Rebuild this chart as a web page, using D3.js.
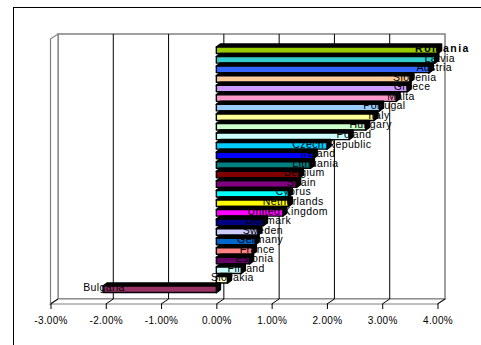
<!DOCTYPE html>
<html>
<head>
<meta charset="utf-8">
<script src="https://cdn.jsdelivr.net/npm/d3@7/dist/d3.min.js"></script>
<style>
  html, body { margin: 0; padding: 0; background: #fff; }
  svg { display: block; }
  text { font-family: "Liberation Sans", Arial, sans-serif; }
</style>
</head>
<body>
<svg id="chart" width="481" height="345"></svg>
<script>
// Countries, top to bottom
const countries = ["Romania", "Latvia", "Austria", "Slovenia", "Greece", "Malta", "Portugal",
  "Italy", "Hungary", "Poland", "Czech Republic", "Ireland", "Lithuania", "Belgium", "Spain",
  "Cyprus", "Netherlands", "United Kingdom", "Denmark", "Sweden", "Germany", "France",
  "Estonia", "Finland", "Slovakia", "Bulgaria"];

// Values in percent
const values = [4.0, 3.95, 3.85, 3.5, 3.45, 3.25, 2.95, 2.85, 2.7, 2.4, 2.0, 1.75, 1.7, 1.5,
  1.45, 1.3, 1.3, 1.2, 0.85, 0.75, 0.7, 0.65, 0.6, 0.45, 0.2, -2.05];

// Bar colours (classic spreadsheet palette)
const colors = ["#99CC00", "#33CCCC", "#3366FF", "#FFCC99", "#CC99FF", "#FF99CC", "#99CCFF",
  "#FFFF99", "#CCFFCC", "#CCFFFF", "#00CCFF", "#0000FF", "#008080", "#800000", "#800080",
  "#00FFFF", "#FFFF00", "#FF00FF", "#000080", "#CCCCFF", "#0066CC", "#FF8080", "#660066",
  "#CCFFFF", "#FFFFCC", "#993366"];

const tickValues = [-3, -2, -1, 0, 1, 2, 3, 4];

const svg = d3.select("#chart");

// Outer chart frame
svg.append("rect")
  .attr("x", 13.5).attr("y", 7.5).attr("width", 520).attr("height", 400)
  .attr("fill", "#fff").attr("stroke", "#000").attr("stroke-width", 1);

// Front plane scale and depth offset of the 3D box
const x = d3.scaleLinear().domain([-3, 4]).range([50.5, 437.5]);
const depth = { dx: 7.5, dy: -5 };
const frontTop = 39, frontBottom = 304;
const backTop = frontTop + depth.dy, backBottom = frontBottom + depth.dy;
const bx = v => x(v) + depth.dx;

const y = d3.scaleBand().domain(countries).range([45.5, 294.1])
  .paddingInner(0.32).paddingOuter(0.16);

const gray = "#808080";
const box = svg.append("g");

// Back wall
box.append("rect")
  .attr("x", bx(-3)).attr("y", backTop)
  .attr("width", bx(4) - bx(-3)).attr("height", backBottom - backTop)
  .attr("fill", "#fff").attr("stroke", gray).attr("stroke-width", 1.5);

// Left wall
box.append("path")
  .attr("d", `M${x(-3)},${frontBottom}L${x(-3)},${frontTop}L${bx(-3)},${backTop}L${bx(-3)},${backBottom}Z`)
  .attr("fill", "#fff").attr("stroke", gray).attr("stroke-width", 1.2);

// Floor
box.append("path")
  .attr("d", `M${x(-3)},${frontBottom}L${x(4)},${frontBottom}L${bx(4)},${backBottom}L${bx(-3)},${backBottom}Z`)
  .attr("fill", "#fff").attr("stroke", gray).attr("stroke-width", 1.2);

// Gridlines on the back wall and floor
const inner = tickValues.filter(v => v > -3 && v < 4);
box.selectAll("line.grid").data(inner).join("line")
  .attr("class", "grid")
  .attr("x1", d => bx(d)).attr("x2", d => bx(d))
  .attr("y1", backTop).attr("y2", backBottom)
  .attr("stroke", "#000").attr("stroke-width", 1);
box.selectAll("line.floorgrid").data(tickValues).join("line")
  .attr("class", "floorgrid")
  .attr("x1", d => bx(d)).attr("x2", d => x(d))
  .attr("y1", backBottom).attr("y2", frontBottom)
  .attr("stroke", "#000").attr("stroke-width", 1);

// Value axis along the front edge of the floor
const axis = d3.axisBottom(x).tickValues(tickValues)
  .tickFormat(d => d.toFixed(2) + "%").tickSize(5).tickPadding(8);
const axG = svg.append("g").attr("transform", `translate(0,${frontBottom})`).call(axis);
axG.select(".domain").remove();
axG.selectAll(".tick line").attr("stroke", "#000");
axG.selectAll(".tick text")
  .attr("font-family", "'Liberation Sans', Arial, sans-serif")
  .attr("font-size", 10).attr("letter-spacing", "0.3px").attr("fill", "#000");

// Bars with a dark extruded top and end face
const bd = { dx: 4, dy: -3 };
const bars = svg.append("g");
countries.forEach((c, i) => {
  const v = values[i];
  const x1 = x(Math.min(0, v)), x2 = x(Math.max(0, v));
  const y0 = y(c), h = y.bandwidth();
  const g = bars.append("g");
  g.append("path")
    .attr("d", `M${x1},${y0}L${x1 + bd.dx},${y0 + bd.dy}L${x2 + bd.dx},${y0 + bd.dy}` +
      `L${x2 + bd.dx},${y0 + h + bd.dy}L${x2},${y0 + h}L${x2},${y0}Z`)
    .attr("fill", "#000").attr("stroke", "#000").attr("stroke-width", 1.6)
    .attr("stroke-linejoin", "round");
  g.append("rect")
    .attr("x", x1).attr("y", y0).attr("width", x2 - x1).attr("height", h)
    .attr("fill", colors[i]).attr("stroke", "#000").attr("stroke-width", 1.4)
    .attr("stroke-linejoin", "round");
});

// Category labels at the bar ends
svg.append("g").selectAll("text").data(countries).join("text")
  .attr("x", (d, i) => x(values[i]) + (values[i] >= 0 ? 5 : 1))
  .attr("y", d => y(d) + y.bandwidth() / 2 - 2)
  .attr("dy", "0.35em")
  .attr("text-anchor", "middle")
  .attr("font-size", 10.5)
  .attr("font-weight", (d, i) => i === 0 ? "bold" : "normal")
  .attr("letter-spacing", (d, i) => i === 0 ? "1.5px" : "0.4px")
  .attr("fill", "#000")
  .text(d => d);
</script>
</body>
</html>
